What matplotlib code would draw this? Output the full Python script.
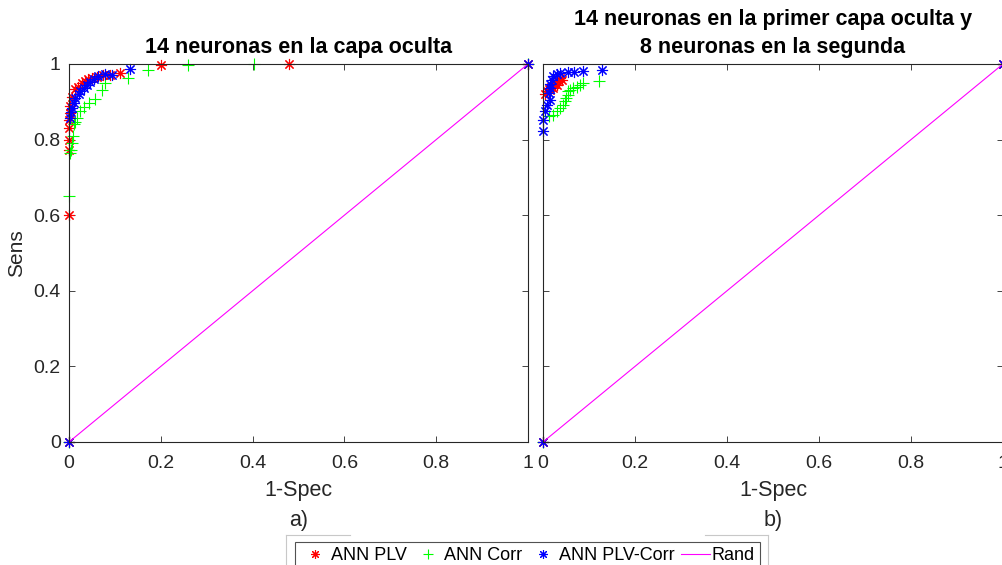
import numpy as np
import matplotlib
matplotlib.use("Agg")
import matplotlib.pyplot as plt
from matplotlib.lines import Line2D

plt.rcParams['font.family'] = ['Liberation Sans', 'DejaVu Sans']

# ROC points, first network (one hidden layer)
plv1_x = [0, 0, 0, 0, 0, 0.001, 0.002, 0.003, 0.006, 0.014, 0.02, 0.028, 0.035, 0.042, 0.05,
          0.06, 0.075, 0.09, 0.112, 0.2, 0.48, 1]
plv1_y = [0, 0.6, 0.772, 0.8, 0.83, 0.853, 0.871, 0.889, 0.913, 0.933, 0.94, 0.951, 0.955, 0.96,
          0.963, 0.966, 0.97, 0.972, 0.975, 0.997, 1.0, 1]
corr1_x = [0, 0, 0.002, 0.004, 0.006, 0.008, 0.01, 0.013, 0.017, 0.025, 0.032, 0.044, 0.057,
           0.071, 0.078, 0.128, 0.172, 0.259, 0.403, 1]
corr1_y = [0, 0.65, 0.764, 0.772, 0.79, 0.81, 0.84, 0.847, 0.858, 0.876, 0.885, 0.897, 0.907,
           0.931, 0.95, 0.964, 0.984, 0.997, 1.0, 1]
both1_x = [0, 0.002, 0.004, 0.007, 0.01, 0.014, 0.021, 0.025, 0.032, 0.039, 0.046, 0.054, 0.064,
           0.079, 0.093, 0.133, 1]
both1_y = [0, 0.856, 0.874, 0.884, 0.898, 0.911, 0.92, 0.929, 0.937, 0.944, 0.952, 0.96, 0.967,
           0.973, 0.97, 0.986, 1]

# ROC points, second network (two hidden layers)
plv2_x = [0, 0.005, 0.008, 0.012, 0.015, 0.018, 0.022, 0.025, 0.03, 0.034, 0.037, 0.042, 1]
plv2_y = [0, 0.92, 0.928, 0.935, 0.932, 0.94, 0.937, 0.948, 0.945, 0.954, 0.963, 0.958, 1]
corr2_x = [0, 0.012, 0.022, 0.03, 0.037, 0.044, 0.047, 0.051, 0.055, 0.055, 0.059, 0.065, 0.073,
           0.08, 0.088, 0.122, 1]
corr2_y = [0, 0.862, 0.866, 0.875, 0.884, 0.892, 0.901, 0.91, 0.919, 0.928, 0.93, 0.937, 0.94,
           0.945, 0.95, 0.954, 1]
both2_x = [0, 0, 0, 0.004, 0.008, 0.015, 0.012, 0.015, 0.015, 0.019, 0.022, 0.03, 0.037, 0.054,
           0.068, 0.088, 0.1275, 1]
both2_y = [0, 0.823, 0.853, 0.875, 0.892, 0.906, 0.923, 0.937, 0.947, 0.958, 0.967, 0.973, 0.976,
           0.979, 0.979, 0.982, 0.985, 1]

rand_x = [0, 1]
rand_y = [0, 1]
ticks = [0, 0.2, 0.4, 0.6, 0.8, 1]
tick_labels = ['0', '0.2', '0.4', '0.6', '0.8', '1']

dark = '#262626'
W, H = 1002, 565
fig = plt.figure(figsize=(W / 100, H / 100), dpi=100)

ax1 = fig.add_axes([69 / W, (H - 442) / H, 459 / W, 378 / H])
ax2 = fig.add_axes([543 / W, (H - 442) / H, 460 / W, 378 / H])

star = (8, 2, 0)
for ax, px, py, cx, cy, bx, by in [(ax1, plv1_x, plv1_y, corr1_x, corr1_y, both1_x, both1_y),
                                   (ax2, plv2_x, plv2_y, corr2_x, corr2_y, both2_x, both2_y)]:
    ax.plot(px, py, ls='none', marker=star, ms=8, mec='#ff0000', mew=0.8, label='ANN PLV', clip_on=False)
    ax.plot(cx, cy, ls='none', marker='+', ms=9, mec='#00ff00', mew=0.8, label='ANN Corr', clip_on=False)
    ax.plot(bx, by, ls='none', marker=star, ms=8, mec='#0000ff', mew=0.8, label='ANN PLV-Corr', clip_on=False)
    ax.plot(rand_x, rand_y, color='#ff00ff', lw=0.8, label='Rand')
    ax.set_xlim(0, 1)
    ax.set_ylim(0, 1)
    ax.set_xticks(ticks)
    ax.set_xticklabels(tick_labels)
    ax.set_yticks(ticks)
    ax.tick_params(direction='in', top=True, right=True, length=4, width=0.6,
                   colors=dark, labelsize=14)
    ax.tick_params(axis='x', pad=9)
    ax.tick_params(axis='y', pad=6)
    for s in ax.spines.values():
        s.set_color(dark)
        s.set_linewidth(0.8)

ax1.set_yticklabels(tick_labels)
ax2.set_yticklabels([])
ax1.set_ylabel('Sens', fontsize=15, color=dark, labelpad=5)
ax1.set_xlabel('1-Spec\na)', fontsize=15.5, color=dark, linespacing=1.55, labelpad=6)
ax2.set_xlabel('1-Spec\nb)', fontsize=15.5, color=dark, linespacing=1.55, labelpad=6)
ax1.set_title('14 neuronas en la capa oculta', fontsize=15.5, fontweight='bold', pad=8)
ax2.set_title('14 neuronas en la primer capa oculta y\n8 neuronas en la segunda',
              fontsize=15.5, fontweight='bold', pad=8, linespacing=1.45)

# faint outer frame around the legend
frame = '#c8c8c8'
for xs, ys in [([286, 286], [535, 570]), ([768, 768], [535, 570]),
               ([286, 350], [535, 535]), ([705, 768], [535, 535])]:
    fig.add_artist(Line2D([x / W for x in xs], [(H - y) / H for y in ys], color=frame, lw=0.8))

handles, labels = ax1.get_legend_handles_labels()
leg = fig.legend(handles, labels, loc='upper center', ncol=4, fontsize=13,
                 bbox_to_anchor=(527.5 / W, (H - 542) / H), borderaxespad=0, frameon=True,
                 fancybox=False, edgecolor=dark, handlelength=1.6, handletextpad=0.1,
                 columnspacing=0.35, borderpad=0.3, markerscale=0.8)
leg.get_frame().set_linewidth(0.8)

fig.savefig('out.png', dpi=100)
